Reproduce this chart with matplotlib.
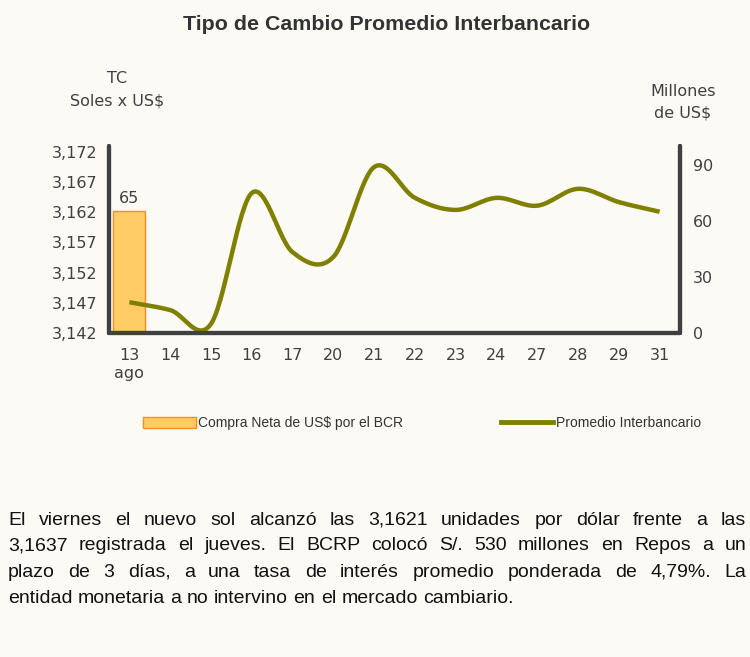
import numpy as np
import matplotlib.pyplot as plt
from matplotlib.patches import Patch
from matplotlib.lines import Line2D

dias = ["13\nago", "14", "15", "16", "17", "20", "21", "22", "23", "24", "27", "28", "29", "31"]
tc = [3.1471, 3.1458, 3.1435, 3.1652, 3.1554, 3.1546, 3.1695, 3.1644, 3.1624, 3.1644, 3.1631, 3.1659, 3.1637, 3.1621]
compra_dias = [0]
compra = [65]

yticks_tc = [3.142, 3.147, 3.152, 3.157, 3.162, 3.167, 3.172]
yticks_mill = [0, 30, 60, 90]

texto = [
    "El viernes el nuevo sol alcanzó las 3,1621 unidades por dólar frente a las",
    "3,1637 registrada el jueves. El BCRP colocó S/. 530 millones en Repos a un",
    "plazo de 3 días, a una tasa de interés promedio ponderada de 4,79%. La",
    "entidad monetaria a no intervino en el mercado cambiario.",
]

bg = "#fbfaf4"
gris = "#404040"
oliva = "#808000"
fs = 11.5


def catmull(xs, ys, n=30):
    # smooth curve through the points, like the spreadsheet "smoothed line"
    xs = np.asarray(xs, float)
    ys = np.asarray(ys, float)
    px = np.concatenate([[2 * xs[0] - xs[1]], xs, [2 * xs[-1] - xs[-2]]])
    py = np.concatenate([[2 * ys[0] - ys[1]], ys, [2 * ys[-1] - ys[-2]]])
    ox, oy = [], []
    t = np.linspace(0, 1, n, endpoint=False)
    for i in range(1, len(px) - 2):
        for p, o in ((px, ox), (py, oy)):
            p0, p1, p2, p3 = p[i - 1], p[i], p[i + 1], p[i + 2]
            o.extend(0.5 * ((2 * p1) + (-p0 + p2) * t + (2 * p0 - 5 * p1 + 4 * p2 - p3) * t ** 2
                            + (-p0 + 3 * p1 - 3 * p2 + p3) * t ** 3))
    ox.append(xs[-1])
    oy.append(ys[-1])
    return np.array(ox), np.array(oy)


fig = plt.figure(figsize=(7.5, 6.57), dpi=100, facecolor=bg)
ax = fig.add_axes([0.1453, 0.4932, 0.7614, 0.2846])
ax.set_facecolor("none")
ax2 = ax.twinx()

x = np.arange(len(dias))

# bars on the first axes (right scale) so the line stays on top
ax.bar(compra_dias, compra, width=0.78, color="#ffcc66", edgecolor="#ff8c1a", linewidth=1)
ax.text(compra_dias[0], compra[0] + 3, str(compra[0]), ha="center", va="bottom", fontsize=fs, color=gris)
ax.set_ylim(0, 100)
ax.yaxis.tick_right()
ax.set_yticks(yticks_mill)
ax.set_yticklabels([str(v) for v in yticks_mill])

sx, sy = catmull(x, tc)
ax2.plot(sx, sy, color=oliva, lw=3.2, solid_capstyle="butt")
ax2.set_ylim(3.142, 3.173)
ax2.yaxis.tick_left()
ax2.set_yticks(yticks_tc)
ax2.set_yticklabels([f"{v:.3f}".replace(".", ",") for v in yticks_tc])

ax.set_xlim(-0.5, len(dias) - 0.5)
ax.set_xticks(x)
ax.set_xticklabels(dias)

for a in (ax, ax2):
    a.tick_params(length=0, labelsize=fs, labelcolor=gris)
    a.spines["top"].set_visible(False)
    for s in ("left", "right", "bottom"):
        a.spines[s].set_color(gris)
        a.spines[s].set_linewidth(3)
        a.spines[s].set_capstyle("round")
ax.tick_params(axis="x", pad=11)
ax.tick_params(axis="y", pad=9)
ax2.tick_params(axis="y", pad=8)

fig.text(0.515, 0.962, "Tipo de Cambio Promedio Interbancario", ha="center", va="center",
         fontsize=15.4, fontweight="bold", family="Liberation Sans", color="#333333")
fig.text(0.156, 0.881, "TC", ha="center", va="center", fontsize=fs, color=gris)
fig.text(0.156, 0.846, "Soles x US$", ha="center", va="center", fontsize=fs, color=gris)
fig.text(0.954, 0.861, "Millones", ha="right", va="center", fontsize=fs, color=gris)
fig.text(0.949, 0.828, "de US$", ha="right", va="center", fontsize=fs, color=gris)

handles = [Patch(facecolor="#ffcc66", edgecolor="#ff8c1a", label="Compra Neta de US$ por el BCR"),
           Line2D([0], [0], color=oliva, lw=3.5, label="Promedio Interbancario")]
fig.legend(handles=handles, loc="center left", bbox_to_anchor=(0.1737, 0.356), ncol=2, frameon=False,
           prop={"family": "Liberation Sans", "size": 10},
           handlelength=3.8, handleheight=0.9, handletextpad=0.2, columnspacing=7.0, labelcolor="#333333")

# justified paragraph
r = fig.canvas.get_renderer()
x0, x1 = 8, 746
ys = [0.2085, 0.169, 0.129, 0.0898]
for i, (linea, yy) in enumerate(zip(texto, ys)):
    palabras = linea.split(" ")
    arts = [fig.text(0, yy, w, fontsize=14, family="Liberation Sans", color="#111111", va="center")
            for w in palabras]
    anchos = [a.get_window_extent(r).width for a in arts]
    if i < len(texto) - 1:
        hueco = (x1 - x0 - sum(anchos)) / (len(palabras) - 1)
    else:
        hueco = 14 * 100 / 72 * 0.278
    pos = x0
    for a, w in zip(arts, anchos):
        a.set_x(pos / 750)
        pos += w + hueco

fig.savefig("out.png", dpi=100, facecolor=bg)
